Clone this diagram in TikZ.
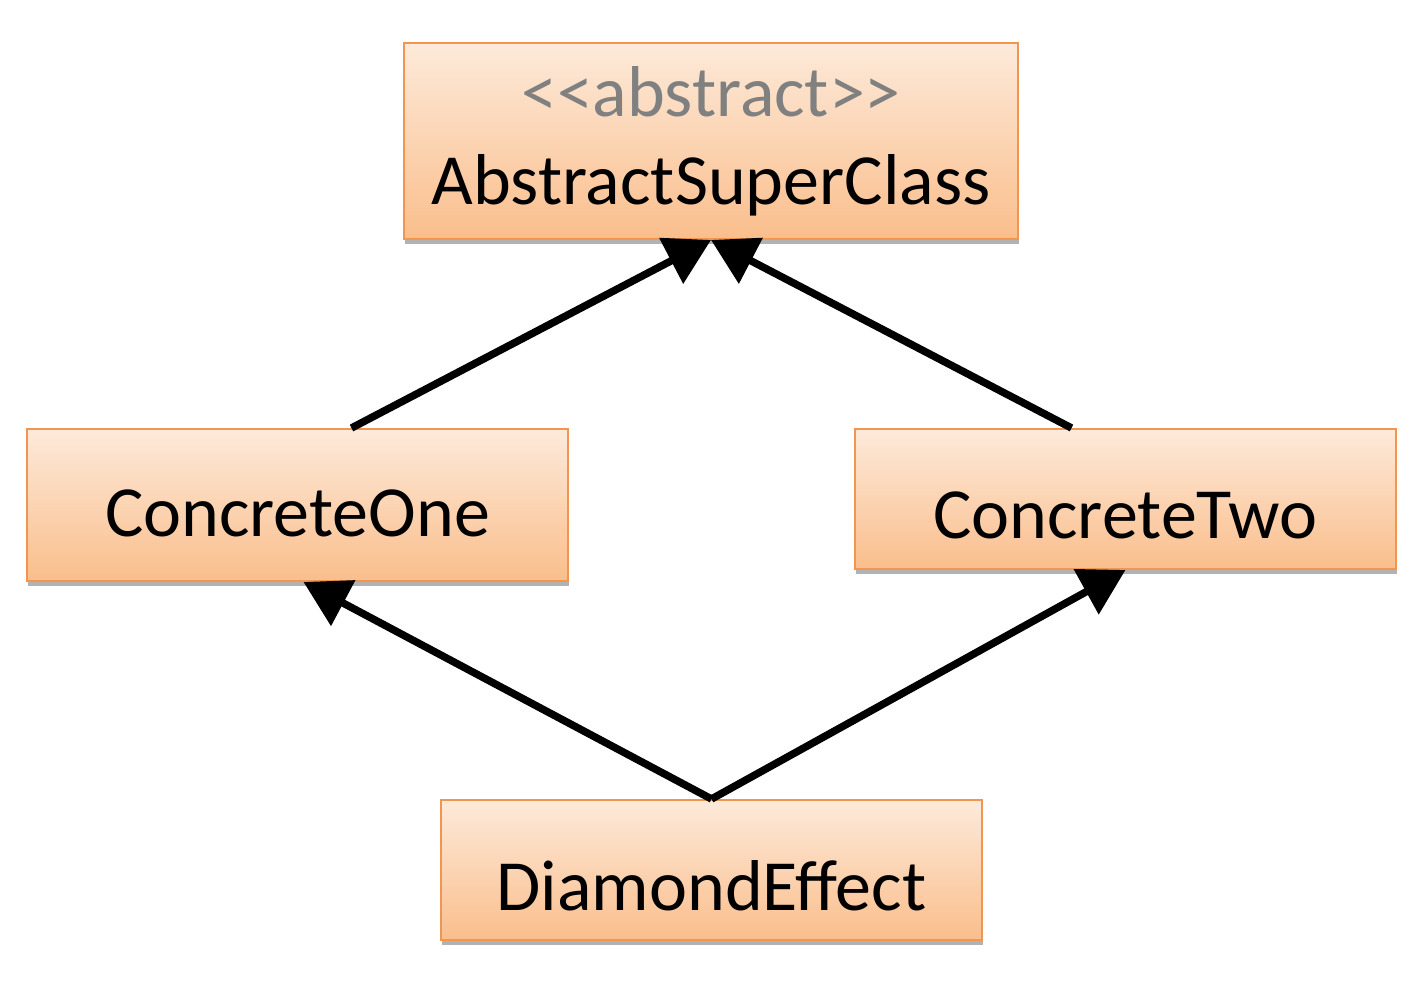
\documentclass[tikz,border=0pt]{standalone}
\usepackage{fontspec}
\setmainfont{Carlito}
\usetikzlibrary{arrows.meta,shadows}
\definecolor{boxtop}{RGB}{253,234,218}
\definecolor{boxbottom}{RGB}{250,190,140}
\definecolor{boxline}{RGB}{240,150,80}
\definecolor{stereo}{RGB}{128,128,128}
\begin{document}
\begin{tikzpicture}[x=0.5pt,y=0.5pt,
    classbox/.style={draw=boxline,line width=1pt,top color=boxtop,bottom color=boxbottom,
      inner sep=0pt,minimum width=270.5pt,minimum height=70pt,
      font=\fontsize{36pt}{43.5pt}\selectfont,
      drop shadow={shadow xshift=0.5pt,shadow yshift=-2.5pt,opacity=0.3,fill=black}},
    oneline/.style={text height=40pt,text depth=0pt},
    inherit/.style={-{Triangle[length=22.5pt,width=25pt]},line width=3.75pt}]
  \useasboundingbox (0,0) rectangle (1416,980);
  \node[classbox,align=center,minimum width=307pt,minimum height=98pt] (super) at (711,839)
    {{\color{stereo}<\kern0pt<abstract>\kern0pt>}\\[0.5pt]AbstractSuperClass};
  \node[classbox,oneline,text height=31pt,minimum height=76pt] (one) at (297.5,475) {ConcreteOne};
  \node[classbox,oneline] (two) at (1125.5,481) {ConcreteTwo};
  \node[classbox,oneline] (diamond) at (711.5,110) {DiamondEffect};
  \draw[inherit] ([xshift=27pt]one.north) -- (super.south);
  \draw[inherit] ([xshift=-27pt]two.north) -- (super.south);
  \draw[inherit] (diamond.north) -- ([xshift=3pt]one.south);
  \draw[inherit] (diamond.north) -- (two.south);
\end{tikzpicture}
\end{document}
